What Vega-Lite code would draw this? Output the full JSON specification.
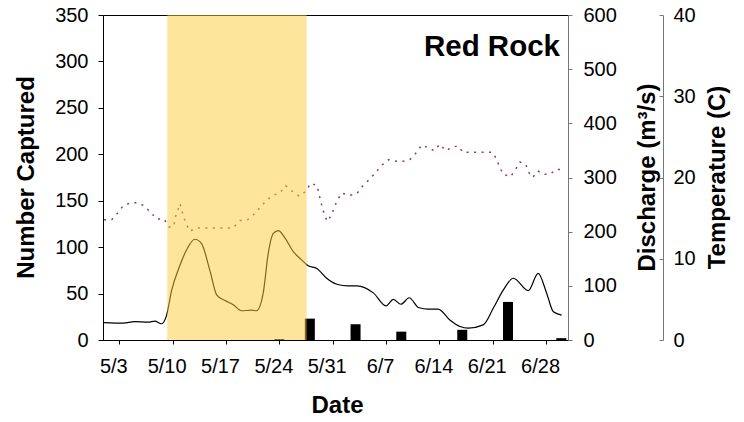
{
  "$schema": "https://vega.github.io/schema/vega-lite/v6.json",
  "width": 465,
  "height": 325,
  "autosize": {"type": "none"},
  "padding": {"left": 103, "top": 15, "right": 176, "bottom": 82},
  "background": "white",
  "config": {
    "font": "Liberation Sans",
    "view": {"stroke": "#000", "strokeWidth": 1},
    "axis": {"grid": false, "labelFont": "Liberation Sans", "titleFont": "Liberation Sans", "labelFontSize": 20, "titleFontSize": 24, "titleFontWeight": "bold", "labelColor": "#000", "titleColor": "#000"}
  },
  "title": {"text": "Red Rock", "anchor": "end", "frame": "group", "orient": "top", "offset": -57, "dx": -8, "fontSize": 29.5, "fontWeight": "bold", "font": "Liberation Sans", "color": "#000"},
  "datasets": {
    "period": [{"start": "2010-05-09T07:00", "end": "2010-05-27T14:00"}],
    "catch": [
      {"date": "2010-05-24T00:00", "captured": 1},
      {"date": "2010-05-28T00:00", "captured": 23},
      {"date": "2010-06-03T00:00", "captured": 17},
      {"date": "2010-06-09T00:00", "captured": 9},
      {"date": "2010-06-17T00:00", "captured": 11},
      {"date": "2010-06-23T00:00", "captured": 41},
      {"date": "2010-06-30T00:00", "captured": 2}
    ],
    "discharge": [
      {"date": "2010-05-01T00:00", "q": 32},
      {"date": "2010-05-03T12:00", "q": 31},
      {"date": "2010-05-05T01:00", "q": 34},
      {"date": "2010-05-06T19:00", "q": 33},
      {"date": "2010-05-07T16:00", "q": 35},
      {"date": "2010-05-08T13:00", "q": 30},
      {"date": "2010-05-09T05:00", "q": 46},
      {"date": "2010-05-09T21:00", "q": 92},
      {"date": "2010-05-10T23:00", "q": 138},
      {"date": "2010-05-11T22:00", "q": 169},
      {"date": "2010-05-12T22:00", "q": 186},
      {"date": "2010-05-13T19:00", "q": 178},
      {"date": "2010-05-14T21:00", "q": 129},
      {"date": "2010-05-15T19:00", "q": 83},
      {"date": "2010-05-16T21:00", "q": 73},
      {"date": "2010-05-17T23:00", "q": 65},
      {"date": "2010-05-19T01:00", "q": 54},
      {"date": "2010-05-20T09:00", "q": 55},
      {"date": "2010-05-21T00:00", "q": 54},
      {"date": "2010-05-21T21:00", "q": 86},
      {"date": "2010-05-22T13:00", "q": 160},
      {"date": "2010-05-23T05:00", "q": 197},
      {"date": "2010-05-23T21:00", "q": 202},
      {"date": "2010-05-24T18:00", "q": 188},
      {"date": "2010-05-25T20:00", "q": 163},
      {"date": "2010-05-26T22:00", "q": 148},
      {"date": "2010-05-27T19:00", "q": 137},
      {"date": "2010-05-28T22:00", "q": 132},
      {"date": "2010-05-30T05:00", "q": 114},
      {"date": "2010-05-31T13:00", "q": 103},
      {"date": "2010-06-02T01:00", "q": 100},
      {"date": "2010-06-03T04:00", "q": 100},
      {"date": "2010-06-05T08:00", "q": 87},
      {"date": "2010-06-07T00:00", "q": 63},
      {"date": "2010-06-07T23:00", "q": 75},
      {"date": "2010-06-08T23:00", "q": 66},
      {"date": "2010-06-10T01:00", "q": 78},
      {"date": "2010-06-11T06:00", "q": 60},
      {"date": "2010-06-12T13:00", "q": 57},
      {"date": "2010-06-13T20:00", "q": 57},
      {"date": "2010-06-15T09:00", "q": 37},
      {"date": "2010-06-16T17:00", "q": 25},
      {"date": "2010-06-17T19:00", "q": 22},
      {"date": "2010-06-19T18:00", "q": 28},
      {"date": "2010-06-21T02:00", "q": 59},
      {"date": "2010-06-22T09:00", "q": 92},
      {"date": "2010-06-23T17:00", "q": 114},
      {"date": "2010-06-25T16:00", "q": 91},
      {"date": "2010-06-26T23:00", "q": 123},
      {"date": "2010-06-28T02:00", "q": 86},
      {"date": "2010-06-28T23:00", "q": 52},
      {"date": "2010-06-30T01:00", "q": 46}
    ],
    "temperature": [
      {"date": "2010-05-01T00:00", "t": 14.8},
      {"date": "2010-05-02T00:00", "t": 14.8},
      {"date": "2010-05-02T18:00", "t": 15.6},
      {"date": "2010-05-03T12:00", "t": 16.5},
      {"date": "2010-05-04T12:00", "t": 16.9},
      {"date": "2010-05-05T10:00", "t": 16.9},
      {"date": "2010-05-06T07:00", "t": 16.5},
      {"date": "2010-05-07T03:00", "t": 15.7},
      {"date": "2010-05-07T22:00", "t": 14.9},
      {"date": "2010-05-08T21:00", "t": 14.9},
      {"date": "2010-05-09T12:30", "t": 13.9},
      {"date": "2010-05-10T04:00", "t": 14.0},
      {"date": "2010-05-10T07:00", "t": 15.0},
      {"date": "2010-05-10T16:00", "t": 15.9},
      {"date": "2010-05-10T23:00", "t": 16.8},
      {"date": "2010-05-11T10:00", "t": 15.2},
      {"date": "2010-05-11T18:00", "t": 14.4},
      {"date": "2010-05-12T05:00", "t": 13.4},
      {"date": "2010-05-13T06:00", "t": 13.8},
      {"date": "2010-05-17T23:00", "t": 13.8},
      {"date": "2010-05-18T20:00", "t": 14.7},
      {"date": "2010-05-19T20:00", "t": 14.8},
      {"date": "2010-05-20T17:00", "t": 15.5},
      {"date": "2010-05-21T11:00", "t": 16.3},
      {"date": "2010-05-22T08:00", "t": 17.2},
      {"date": "2010-05-23T03:00", "t": 17.8},
      {"date": "2010-05-24T02:00", "t": 18.1},
      {"date": "2010-05-24T20:00", "t": 19.0},
      {"date": "2010-05-25T17:00", "t": 18.3},
      {"date": "2010-05-26T14:00", "t": 17.7},
      {"date": "2010-05-27T11:00", "t": 18.3},
      {"date": "2010-05-28T03:00", "t": 19.3},
      {"date": "2010-05-28T23:00", "t": 19.0},
      {"date": "2010-05-29T10:00", "t": 17.1},
      {"date": "2010-05-29T22:00", "t": 15.4},
      {"date": "2010-05-30T07:00", "t": 14.6},
      {"date": "2010-05-30T19:00", "t": 15.3},
      {"date": "2010-05-31T05:00", "t": 16.3},
      {"date": "2010-05-31T13:00", "t": 17.1},
      {"date": "2010-06-01T04:00", "t": 18.1},
      {"date": "2010-06-02T04:00", "t": 17.8},
      {"date": "2010-06-03T04:00", "t": 18.0},
      {"date": "2010-06-03T21:00", "t": 18.9},
      {"date": "2010-06-04T18:00", "t": 19.7},
      {"date": "2010-06-05T15:00", "t": 20.6},
      {"date": "2010-06-06T10:00", "t": 21.5},
      {"date": "2010-06-07T09:00", "t": 22.2},
      {"date": "2010-06-08T07:00", "t": 22.0},
      {"date": "2010-06-09T06:00", "t": 22.0},
      {"date": "2010-06-10T03:00", "t": 22.2},
      {"date": "2010-06-11T00:00", "t": 23.1},
      {"date": "2010-06-11T16:00", "t": 24.0},
      {"date": "2010-06-12T11:00", "t": 23.7},
      {"date": "2010-06-13T07:00", "t": 23.3},
      {"date": "2010-06-14T02:00", "t": 24.1},
      {"date": "2010-06-14T20:00", "t": 23.3},
      {"date": "2010-06-15T15:00", "t": 23.7},
      {"date": "2010-06-16T10:00", "t": 23.9},
      {"date": "2010-06-17T03:00", "t": 23.1},
      {"date": "2010-06-18T04:00", "t": 23.1},
      {"date": "2010-06-20T23:00", "t": 23.1},
      {"date": "2010-06-21T13:00", "t": 22.2},
      {"date": "2010-06-21T21:00", "t": 21.3},
      {"date": "2010-06-22T09:00", "t": 20.4},
      {"date": "2010-06-23T08:00", "t": 20.1},
      {"date": "2010-06-24T00:00", "t": 21.0},
      {"date": "2010-06-24T14:00", "t": 21.9},
      {"date": "2010-06-25T08:00", "t": 21.6},
      {"date": "2010-06-25T16:00", "t": 20.7},
      {"date": "2010-06-26T06:00", "t": 20.0},
      {"date": "2010-06-26T22:00", "t": 20.8},
      {"date": "2010-06-27T17:00", "t": 20.4},
      {"date": "2010-06-28T12:00", "t": 20.4},
      {"date": "2010-06-29T09:00", "t": 21.0},
      {"date": "2010-06-30T06:00", "t": 21.0}
    ]
  },
  "layer": [
    {
      "data": {"name": "catch"},
      "mark": {"type": "bar", "color": "#000", "size": 10},
      "encoding": {
        "x": {
          "field": "date", "type": "temporal",
          "scale": {"nice": false, "padding": 0, "domain": [{"year": 2010, "month": 4, "date": 30, "hours": 20, "minutes": 40}, {"year": 2010, "month": 6, "date": 30, "hours": 21}]},
          "axis": {
            "title": "Date", "titleX": 234, "titleY": 65, "titleBaseline": "middle", "titleAlign": "center",
            "values": [
              {"year": 2010, "month": 5, "date": 3}, {"year": 2010, "month": 5, "date": 10}, {"year": 2010, "month": 5, "date": 17},
              {"year": 2010, "month": 5, "date": 24}, {"year": 2010, "month": 5, "date": 31}, {"year": 2010, "month": 6, "date": 7},
              {"year": 2010, "month": 6, "date": 14}, {"year": 2010, "month": 6, "date": 21}, {"year": 2010, "month": 6, "date": 28}
            ],
            "format": "%-m/%-d", "labelOffset": -6, "tickSize": 4, "labelPadding": 12,
            "domainColor": "#000", "tickColor": "#000", "labelFlush": false, "labelOverlap": false
          }
        },
        "y": {
          "field": "captured", "type": "quantitative",
          "scale": {"domain": [0, 350], "nice": false},
          "axis": {
            "title": "Number Captured", "orient": "left", "values": [0, 50, 100, 150, 200, 250, 300, 350],
            "tickSize": 5, "labelPadding": 10, "domainColor": "#000", "tickColor": "#000",
            "titleX": -77, "titleY": 162, "titleAngle": 270, "titleBaseline": "middle", "titleAlign": "center"
          }
        }
      }
    },
    {
      "data": {"name": "discharge"},
      "mark": {"type": "line", "color": "#000", "strokeWidth": 1.2, "interpolate": "monotone"},
      "encoding": {
        "x": {"field": "date", "type": "temporal", "scale": {"nice": false, "padding": 0, "domain": [{"year": 2010, "month": 4, "date": 30, "hours": 20, "minutes": 40}, {"year": 2010, "month": 6, "date": 30, "hours": 21}]}},
        "y": {
          "field": "q", "type": "quantitative",
          "scale": {"domain": [0, 600], "nice": false},
          "axis": {
            "title": "Discharge (m³/s)", "orient": "right", "values": [0, 100, 200, 300, 400, 500, 600],
            "tickSize": 4, "labelPadding": 11, "domainColor": "#777", "tickColor": "#777",
            "titleX": 79, "titleY": 162, "titleAngle": 270, "titleBaseline": "middle", "titleAlign": "center"
          }
        }
      }
    },
    {
      "data": {"name": "temperature"},
      "mark": {"type": "line", "color": "#8B3A6B", "strokeWidth": 1.5, "strokeDash": [2, 5.5]},
      "encoding": {
        "x": {"field": "date", "type": "temporal", "scale": {"nice": false, "padding": 0, "domain": [{"year": 2010, "month": 4, "date": 30, "hours": 20, "minutes": 40}, {"year": 2010, "month": 6, "date": 30, "hours": 21}]}},
        "y": {
          "field": "t", "type": "quantitative",
          "scale": {"domain": [0, 40], "nice": false},
          "axis": {
            "title": "Temperature (C)", "orient": "right", "offset": 95, "values": [0, 10, 20, 30, 40],
            "tickSize": -4, "labelPadding": 14, "domainColor": "#777", "tickColor": "#777",
            "titleX": 54, "titleY": 162, "titleAngle": 270, "titleBaseline": "middle", "titleAlign": "center"
          }
        }
      }
    },
    {
      "data": {"name": "period"},
      "mark": {"type": "rect", "color": "#FBCB37", "opacity": 0.5},
      "encoding": {
        "x": {"field": "start", "type": "temporal", "scale": {"nice": false, "padding": 0, "domain": [{"year": 2010, "month": 4, "date": 30, "hours": 20, "minutes": 40}, {"year": 2010, "month": 6, "date": 30, "hours": 21}]}},
        "x2": {"field": "end"}
      }
    }
  ],
  "resolve": {"scale": {"y": "independent"}}
}
